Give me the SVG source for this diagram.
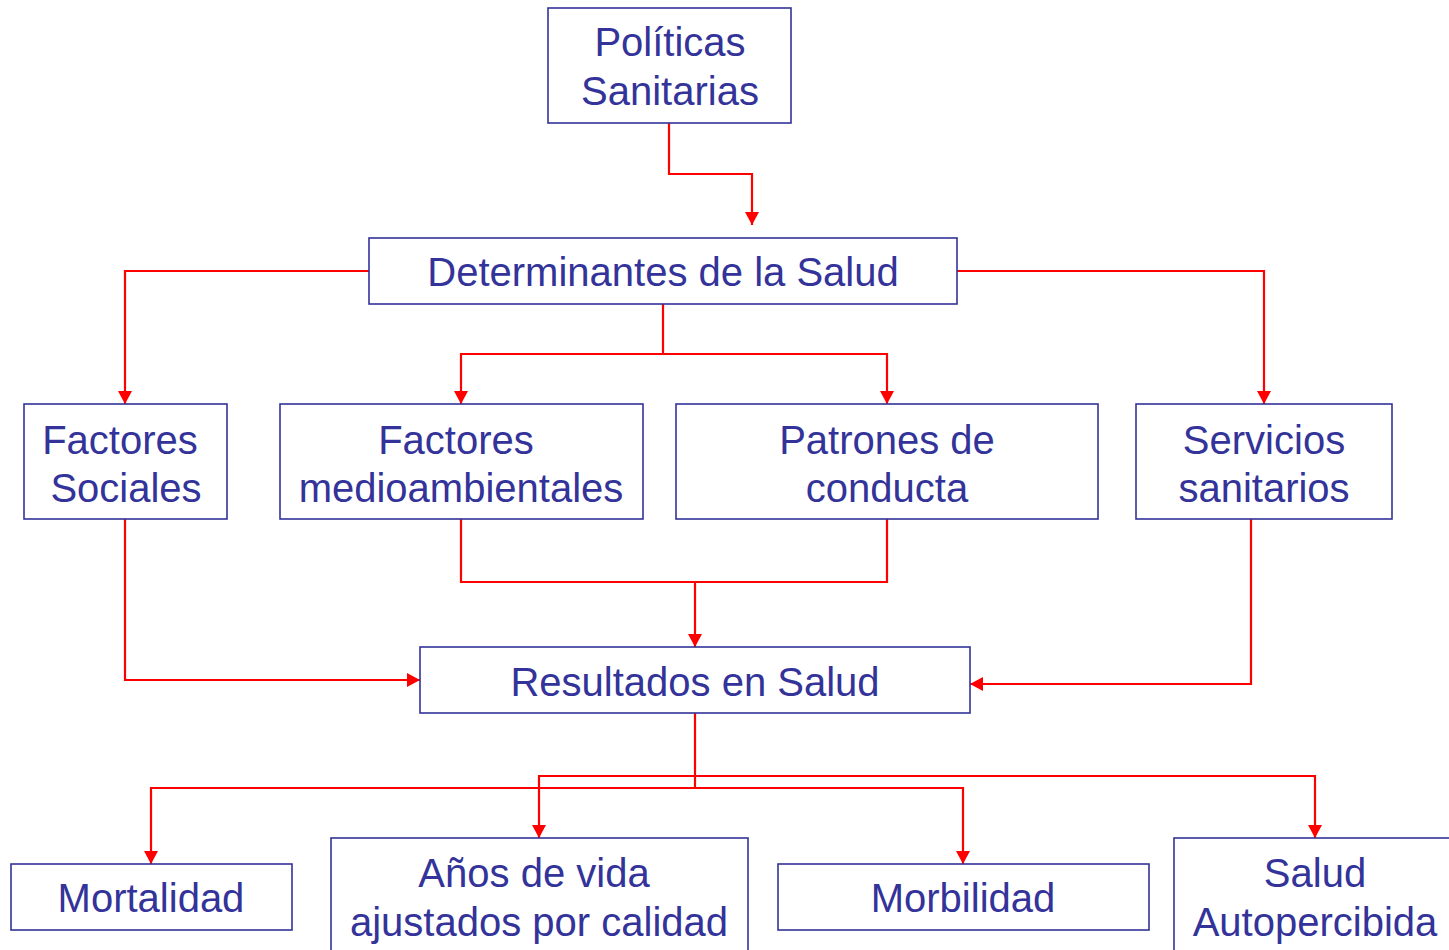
<svg xmlns="http://www.w3.org/2000/svg" width="1449" height="950" viewBox="0 0 1449 950">
<style>
.box{fill:#fff;stroke:#333399;stroke-width:1.6}
.t{font-family:"Liberation Sans",Arial,sans-serif;font-size:40px;fill:#333399;text-anchor:middle}
.c{fill:none;stroke:#ff0000;stroke-width:2.2;marker-end:url(#ah)}
.l{fill:none;stroke:#ff0000;stroke-width:2.2}
</style>
<defs>
<marker id="ah" markerUnits="userSpaceOnUse" markerWidth="16" markerHeight="14" refX="13" refY="7" orient="auto">
<path d="M0,0 L13,7 L0,14 Z" fill="#ff0000"/>
</marker>
</defs>
<rect width="1449" height="950" fill="#fff"/>
<g id="connectors">
<path class="c" d="M669,123 V174 H752 V225"/>
<path class="c" d="M369,271 H125 V404"/>
<path class="c" d="M957,271 H1264 V404"/>
<path class="l" d="M663,304 V354"/>
<path class="c" d="M663,354 H461 V404"/>
<path class="c" d="M663,354 H887 V404"/>
<path class="l" d="M461,519 V582 H887 V519"/>
<path class="c" d="M695,582 V647"/>
<path class="c" d="M125,519 V680 H420"/>
<path class="c" d="M1251,519 V684 H970"/>
<path class="l" d="M695,713 V788"/>
<path class="c" d="M695,788 H151 V864"/>
<path class="c" d="M695,788 H963 V864"/>
<path class="c" d="M695,776 H539 V838"/>
<path class="c" d="M695,776 H1315 V838"/>
</g>
<g id="n-politicas">
<rect class="box" x="548" y="8" width="243" height="115"/>
<text class="t" x="670" y="56">Políticas</text>
<text class="t" x="670" y="105">Sanitarias</text>
</g>
<g id="n-determinantes">
<rect class="box" x="369" y="238" width="588" height="66"/>
<text class="t" x="663" y="286">Determinantes de la Salud</text>
</g>
<g id="n-sociales">
<rect class="box" x="24" y="404" width="203" height="115"/>
<text class="t" x="120" y="454">Factores</text>
<text class="t" x="126" y="502">Sociales</text>
</g>
<g id="n-medio">
<rect class="box" x="280" y="404" width="363" height="115"/>
<text class="t" x="456" y="454">Factores</text>
<text class="t" x="461" y="502">medioambientales</text>
</g>
<g id="n-patrones">
<rect class="box" x="676" y="404" width="422" height="115"/>
<text class="t" x="887" y="454">Patrones de</text>
<text class="t" x="887" y="502">conducta</text>
</g>
<g id="n-servicios">
<rect class="box" x="1136" y="404" width="256" height="115"/>
<text class="t" x="1264" y="454">Servicios</text>
<text class="t" x="1264" y="502">sanitarios</text>
</g>
<g id="n-resultados">
<rect class="box" x="420" y="647" width="550" height="66"/>
<text class="t" x="695" y="696">Resultados en Salud</text>
</g>
<g id="n-mortalidad">
<rect class="box" x="11" y="864" width="281" height="66"/>
<text class="t" x="151" y="912">Mortalidad</text>
</g>
<g id="n-anos">
<rect class="box" x="331" y="838" width="417" height="120"/>
<text class="t" x="534" y="887">Años de vida</text>
<text class="t" x="539" y="936">ajustados por calidad</text>
</g>
<g id="n-morbilidad">
<rect class="box" x="778" y="864" width="371" height="66"/>
<text class="t" x="963" y="912">Morbilidad</text>
</g>
<g id="n-salud">
<rect class="box" x="1174" y="838" width="290" height="120"/>
<text class="t" x="1315" y="887">Salud</text>
<text class="t" x="1315" y="936">Autopercibida</text>
</g>
</svg>
